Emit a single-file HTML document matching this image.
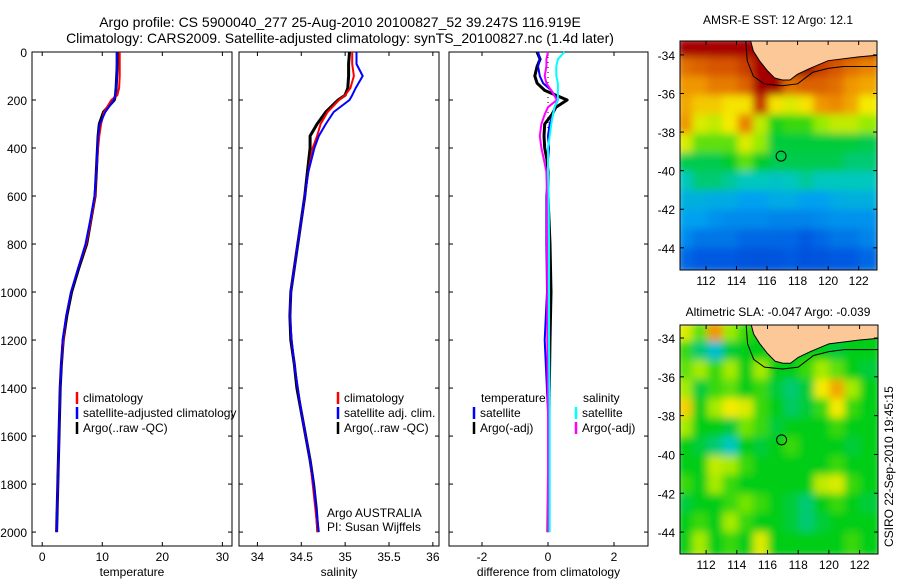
<!DOCTYPE html>
<html><head><meta charset="utf-8"><style>
body{margin:0;background:#fff;}
svg{display:block;font-family:"Liberation Sans",sans-serif;}
text{fill:#000;}
</style></head><body>
<svg id="fig" width="900" height="580" viewBox="0 0 900 580" xmlns="http://www.w3.org/2000/svg">
<rect width="900" height="580" fill="#fff"/>
<text x="340" y="27" font-size="14" text-anchor="middle">Argo profile: CS 5900040_277 25-Aug-2010 20100827_52 39.247S 116.919E</text>
<text x="340" y="43" font-size="14" text-anchor="middle">Climatology: CARS2009. Satellite-adjusted climatology: synTS_20100827.nc (1.4d later)</text>
<text x="778" y="24" font-size="12" text-anchor="middle">AMSR-E SST: 12 Argo: 12.1</text>
<text x="778" y="316" font-size="12" text-anchor="middle">Altimetric SLA: -0.047 Argo: -0.039</text>
<text transform="translate(893,547) rotate(-90)" font-size="12">CSIRO 22-Sep-2010 19:45:15</text>
<defs><clipPath id="p1clip"><rect x="0" y="0" width="239" height="580"/></clipPath></defs>
<g id="g"></g>
</svg>
<script>
// ---- profile data ----
const depthTS=[0,50,100,150,180,200,250,300,350,400,500,600,700,800,900,1000,1100,1200,1300,1400,1500,1600,1700,1800,1900,2000];
const tempClim=[12.9,12.9,12.9,12.8,12.5,11.5,10.3,9.8,9.5,9.3,9.0,8.8,8.1,7.3,6.0,4.8,4.0,3.5,3.2,3.0,2.9,2.8,2.7,2.6,2.5,2.4];
const tempSat=[12.4,12.4,12.4,12.3,12.2,11.9,10.5,9.6,9.3,9.2,9.0,8.7,8.0,7.2,6.0,4.8,4.0,3.4,3.2,3.0,2.9,2.8,2.7,2.6,2.5,2.4];
const tempArgo=[12.5,12.5,12.4,12.3,12.2,12.0,10.2,9.5,9.3,9.2,9.0,8.8,8.1,7.4,6.1,4.9,4.1,3.5,3.2,3.0,2.9,2.8,2.7,2.6,2.5,2.4];
const salClim=[35.08,35.08,35.1,35.06,35.0,34.93,34.8,34.72,34.68,34.63,34.58,34.54,34.5,34.46,34.42,34.38,34.37,34.39,34.42,34.46,34.5,34.55,34.6,34.63,34.66,34.69];
const salSat=[35.13,35.13,35.2,35.12,35.08,35.05,34.87,34.78,34.7,34.65,34.58,34.54,34.5,34.46,34.42,34.38,34.37,34.39,34.42,34.46,34.5,34.55,34.6,34.64,34.67,34.70];
const salArgo=[35.05,35.04,35.04,35.03,35.0,34.92,34.78,34.68,34.6,34.6,34.57,34.54,34.5,34.46,34.42,34.38,34.37,34.38,34.42,34.45,34.5,34.55,34.6,34.64,34.67,34.69];
const depthD=[0,30,60,100,130,160,200,230,260,300,350,400,450,500,600,800,1000,1200,1500,2000];
const dTempSat=[-0.3,-0.25,-0.3,-0.25,-0.15,0.1,0.3,0.2,0.15,0.05,0,0.03,0,0,-0.05,-0.05,-0.03,-0.1,0,0];
const dTempArgo=[-0.33,-0.24,-0.33,-0.4,-0.33,-0.1,0.58,0.24,0.12,-0.1,-0.12,-0.1,-0.03,0,0,0.06,0.09,0.06,0.03,0];
const dSalSat=[0.5,0.3,0.25,0.25,0.3,0.3,0.3,0.2,0.15,0.1,0.05,0,0,0,0.02,0.03,0.03,0.03,0.05,0.05];
const dSalArgo=[0,-0.05,-0.05,-0.1,-0.05,0.1,0.27,0,-0.1,-0.2,-0.25,-0.2,-0.12,-0.05,-0.03,-0.03,-0.02,-0.02,0,0];
const depthTicks=[0,200,400,600,800,1000,1200,1400,1600,1800,2000];
const tempTicks=[0,10,20,30];
const salTicks=[34,34.5,35,35.5,36];
const diffTicks=[-2,0,2];
// ---- map data (colormap fraction 0..1), rows north->south, 13 cols ----
const sstGrid=[
[.93,.93,.93,.93,.93,.93,.93,.9,.9,.9,.9,.9,.9],
[.78,.8,.82,.82,.85,.93,.95,.95,.95,.85,.82,.78,.75],
[.72,.72,.76,.76,.8,.93,.93,.78,.8,.8,.78,.72,.7],
[.7,.66,.66,.63,.63,.86,.63,.6,.63,.72,.74,.7,.62],
[.72,.6,.58,.62,.75,.58,.48,.5,.5,.55,.58,.58,.55],
[.6,.52,.52,.52,.6,.55,.45,.45,.45,.45,.45,.45,.44],
[.44,.44,.44,.46,.52,.46,.44,.44,.44,.44,.44,.42,.42],
[.38,.42,.42,.4,.38,.38,.37,.38,.4,.38,.38,.38,.38],
[.33,.33,.32,.32,.3,.3,.32,.32,.3,.3,.32,.33,.33],
[.3,.3,.28,.27,.27,.27,.26,.26,.26,.27,.28,.28,.28],
[.27,.24,.24,.24,.22,.22,.22,.22,.2,.22,.24,.24,.26],
[.22,.2,.2,.2,.18,.17,.18,.2,.17,.18,.2,.2,.22]];
const slaGrid=[
[.6,.52,.72,.55,.5,.47,.47,.47,.47,.47,.47,.47,.47],
[.5,.42,.36,.45,.47,.47,.5,.47,.47,.47,.45,.47,.47],
[.52,.56,.5,.56,.47,.56,.47,.47,.5,.56,.52,.47,.45],
[.56,.45,.5,.52,.47,.5,.45,.42,.45,.62,.7,.56,.47],
[.65,.47,.56,.62,.6,.5,.47,.43,.45,.5,.62,.5,.47],
[.56,.47,.47,.45,.53,.5,.45,.47,.47,.47,.5,.47,.47],
[.47,.45,.42,.38,.47,.45,.47,.5,.47,.47,.47,.45,.47],
[.47,.47,.58,.56,.5,.47,.47,.47,.47,.47,.5,.47,.47],
[.5,.47,.56,.5,.47,.47,.47,.47,.47,.58,.6,.5,.47],
[.45,.47,.47,.5,.53,.5,.47,.45,.42,.47,.5,.47,.45],
[.47,.5,.47,.56,.5,.47,.47,.45,.42,.45,.47,.47,.47],
[.47,.56,.47,.5,.47,.6,.47,.47,.47,.47,.47,.5,.47]];
const landLon=[114.9,123.5,123.5,122,120,118.8,118,117.5,117,116.5,116,115.5,115.1];
const landLat=[-33.2,-33.2,-34.0,-34.1,-34.3,-34.7,-35.0,-35.3,-35.3,-35.2,-34.8,-34.3,-33.8];
const contLon=[114.6,114.7,115.1,115.8,117,118,119,120,121,122,123.5];
const contLat=[-33.2,-34.3,-35.1,-35.5,-35.6,-35.5,-34.9,-34.7,-34.6,-34.6,-34.6];
const lonTicks=[112,114,116,118,120,122];
const latTicks=[-34,-36,-38,-40,-42,-44];
const argoLon=116.919, argoLat=-39.247;

const NS="http://www.w3.org/2000/svg";
const G=document.getElementById('g');
function el(t,a,p){const e=document.createElementNS(NS,t);for(const k in a)e.setAttribute(k,a[k]);(p||G).appendChild(e);return e;}

const PT=52,PB=546,D0=0,D1=2058;
function yD(d){return PT+(d-D0)/(D1-D0)*(PB-PT);}

function panel(name,x0,x1,vmin,vmax,ticks,xlabel,showY){
  const xs=v=>x0+(v-vmin)/(vmax-vmin)*(x1-x0);
  const g=el('g',{});
  
  
  const r=el('rect',{x:x0,y:PT,width:x1-x0,height:PB-PT,fill:'none',stroke:'#000','stroke-width':1},g);
  
  
  depthTicks.forEach(d=>{
    const y=yD(d);
    el('line',{x1:x0,x2:x0+4,y1:y,y2:y,stroke:'#000'},g);
    el('line',{x1:x1-4,x2:x1,y1:y,y2:y,stroke:'#000'},g);
    if(showY){const t=el('text',{x:x0-5,y:y+5,'font-size':12,'text-anchor':'end'},g);t.textContent=d;
      
      }
  });
  ticks.forEach(v=>{
    const x=xs(v);
    el('line',{x1:x,x2:x,y1:PB,y2:PB-4,stroke:'#000'},g);
    el('line',{x1:x,x2:x,y1:PT,y2:PT+4,stroke:'#000'},g);
    const t=el('text',{x:x,y:PB+15,'font-size':12,'text-anchor':'middle'},g);t.textContent=v;
    
    
  });
  const xl=el('text',{x:(x0+x1)/2,y:576,'font-size':12,'text-anchor':'middle'},g);xl.textContent=xlabel;
  
  
  return xs;
}
function line(xs,vals,depths,color,w,name){
  const p=el('polyline',{points:vals.map((v,i)=>xs(v).toFixed(1)+','+yD(depths[i]).toFixed(1)).join(' '),fill:'none',stroke:color,'stroke-width':w,'stroke-linejoin':'round'});
  
  
}
function legend(x,y,items,parent){
  items.forEach((it,i)=>{
    el('line',{x1:x,x2:x,y1:y+i*15-10,y2:y+i*15+2,stroke:it[1],'stroke-width':2.5},parent);
    const t=el('text',{x:x+6,y:y+i*15,'font-size':12},parent);t.textContent=it[0];
    
    
  });
}
function txt(x,y,s,name){const t=el('text',{x:x,y:y,'font-size':12});t.textContent=s;
  
  }

const xT=panel('temperature-panel',32,232,-1.7,31.6,tempTicks,'temperature',true);
line(xT,tempArgo,depthTS,'#000',3,'temp-argo-line');
line(xT,tempClim,depthTS,'#f00',2,'temp-climatology-line');
line(xT,tempSat,depthTS,'#00f',2,'temp-satellite-line');
const lg1=el('g',{'clip-path':'url(#p1clip)'});


legend(77,402,[['climatology','#f00'],['satellite-adjusted climatology','#00f'],['Argo(..raw -QC)','#000']],lg1);

const xS=panel('salinity-panel',239,439,33.79,36.07,salTicks,'salinity',false);
line(xS,salArgo,depthTS,'#000',3,'sal-argo-line');
line(xS,salClim,depthTS,'#f00',2,'sal-climatology-line');
line(xS,salSat,depthTS,'#00f',2,'sal-satellite-line');
legend(338,402,[['climatology','#f00'],['satellite adj. clim.','#00f'],['Argo(..raw -QC)','#000']]);
txt(327,517,'Argo AUSTRALIA','argo-australia-label');
txt(327,531,'PI: Susan Wijffels','pi-label');

const xDf=panel('difference-panel',449,648,-3.0,3.03,diffTicks,'difference from climatology',false);
el('line',{x1:xDf(0),x2:xDf(0),y1:PT,y2:yD(500),stroke:'#000','stroke-dasharray':'1 4'});
line(xDf,dTempArgo,depthD,'#000',3,'diff-temp-argo-line');
line(xDf,dTempSat,depthD,'#00f',2,'diff-temp-satellite-line');
line(xDf,dSalArgo,depthD,'#f0f',2,'diff-sal-argo-line');
line(xDf,dSalSat,depthD,'#0ff',2,'diff-sal-satellite-line');
txt(481,402,'temperature','legend-temperature-header');
txt(583,402,'salinity','legend-salinity-header');
legend(474,417,[['satellite','#00f'],['Argo(-adj)','#000']]);
legend(576,417,[['satellite','#0ff'],['Argo(-adj)','#f0f']]);

const cmapStops=[[0,[0,40,190]],[0.2,[0,90,225]],[0.3,[0,160,240]],[0.38,[0,200,190]],[0.47,[0,205,20]],[0.55,[150,235,0]],[0.62,[245,235,0]],[0.72,[240,150,0]],[0.82,[215,85,0]],[0.93,[165,0,0]],[1,[130,0,0]]];
function cmap(v){
  for(let i=1;i<cmapStops.length;i++){
    if(v<=cmapStops[i][0]){const a=cmapStops[i-1],b=cmapStops[i];const t=(v-a[0])/(b[0]-a[0]);
      return 'rgb('+a[1].map((c,k)=>Math.round(c+(b[1][k]-c)*t)).join(',')+')';}
  }
  return 'rgb(130,0,0)';
}
let mapN=0;
function map(name,x0,y0,x1,y1,lon0,lon1,lat0,lat1,grid){
  const id='m'+(mapN++);
  const lx=v=>x0+(v-lon0)/(lon1-lon0)*(x1-x0);
  const ly=v=>y0+(lat0-v)/(lat0-lat1)*(y1-y0);
  const defs=el('defs',{});
  const cp=el('clipPath',{id:id+'c'},defs);el('rect',{x:x0,y:y0,width:x1-x0,height:y1-y0},cp);
  const f=el('filter',{id:id+'f',x:'-10%',y:'-10%',width:'120%',height:'120%'},defs);el('feGaussianBlur',{stdDeviation:4},f);
  const g=el('g',{'clip-path':'url(#'+id+'c)'});
  
  
  const gb=el('g',{filter:'url(#'+id+'f)'},g);
  const rows=grid.length,cols=grid[0].length;
  for(let r=0;r<rows;r++)for(let c=0;c<cols;c++){
    const la=lat0-(r)*(lat0-lat1)/rows, lo=lon0+c*(lon1-lon0)/cols;
    const cx=lx(lo),cy=ly(la);
    const cell=el('rect',{x:cx-3,y:cy-3,width:(x1-x0)/cols+6,height:(y1-y0)/rows+6,fill:cmap(grid[r][c])},gb);
    
    
  }
  const land=el('polygon',{points:landLon.map((v,i)=>lx(v)+','+ly(landLat[i])).join(' '),fill:'#fcc898',stroke:'#000','stroke-width':1},g);
  
  
  const ct=el('polyline',{points:contLon.map((v,i)=>lx(v)+','+ly(contLat[i])).join(' '),fill:'none',stroke:'#000','stroke-width':1},g);
  
  
  const m=el('circle',{cx:lx(argoLon),cy:ly(argoLat),r:5,fill:'none',stroke:'#000','stroke-width':1});
  
  
  el('rect',{x:x0,y:y0,width:x1-x0,height:y1-y0,fill:'none',stroke:'#000'});
  lonTicks.forEach(v=>{const x=lx(v);el('line',{x1:x,x2:x,y1:y1,y2:y1-4,stroke:'#000'});el('line',{x1:x,x2:x,y1:y0,y2:y0+4,stroke:'#000'});
    const t=el('text',{x:x,y:y1+15,'font-size':12,'text-anchor':'middle'});t.textContent=v;
    
    });
  latTicks.forEach(v=>{const y=ly(v);el('line',{x1:x0,x2:x0+4,y1:y,y2:y,stroke:'#000'});el('line',{x1:x1-4,x2:x1,y1:y,y2:y,stroke:'#000'});
    const t=el('text',{x:x0-5,y:y+5,'font-size':12,'text-anchor':'end'});t.textContent=v;
    
    });
}
map('sst-map',680,41,877,270,110.3,123.2,-33.28,-45.15,sstGrid);
map('sla-map',680,325,878,554,110.3,123.2,-33.33,-45.13,slaGrid);
</script>
</body></html>
